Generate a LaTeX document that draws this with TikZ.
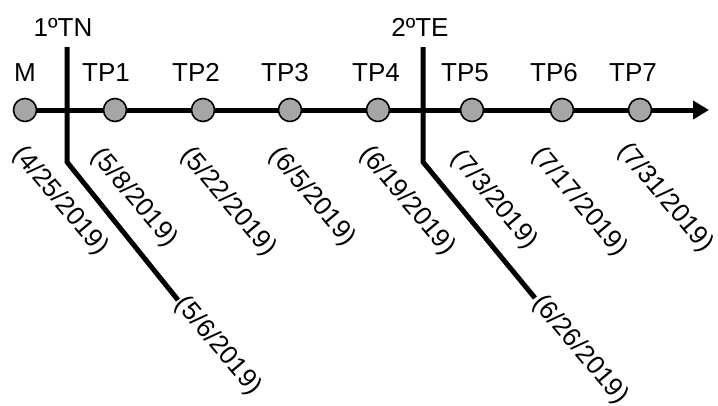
\documentclass[tikz,border=0pt]{standalone}
\usepackage{fontspec}
\setmainfont{Liberation Sans}
\usetikzlibrary{arrows.meta}
\definecolor{dotgray}{HTML}{A6A6A6}
\begin{document}
\begin{tikzpicture}[x=1pt,y=-1pt,
  dot/.style={circle,draw=black,line width=1.6pt,fill=dotgray,minimum size=23pt,inner sep=0pt},
  lbl/.style={anchor=base,inner sep=0pt,font=\fontsize{26}{31}\selectfont},
  datelbl/.style={rotate=-50,inner sep=0pt,font=\fontsize{26}{31}\selectfont},
  thick line/.style={line width=5pt}]
\useasboundingbox (0,0) rectangle (718,405);
% main axis
\coordinate (start) at (25,110);
\coordinate (tip) at (709,110);
\draw[thick line,-{Triangle[length=16pt,width=18pt]}] (start) -- (tip);
% event lines
\coordinate (e1top) at (67,47);
\coordinate (e1bend) at (67,162);
\coordinate (e1end) at (178,300);
\coordinate (e2top) at (423,47);
\coordinate (e2bend) at (423,162);
\coordinate (e2end) at (535,298);
\draw[thick line] (e1top) -- (e1bend) -- (e1end);
\draw[thick line] (e2top) -- (e2bend) -- (e2end);
% dots
\node[dot] (M) at (25,110) {};
\node[dot] (TP1) at (115,110) {};
\node[dot] (TP2) at (203,110) {};
\node[dot] (TP3) at (290,110) {};
\node[dot] (TP4) at (378,110) {};
\node[dot] (TP5) at (472,110) {};
\node[dot] (TP6) at (562,110) {};
\node[dot] (TP7) at (640,110) {};
% labels
\node[lbl] (lM) at (25,81) {M};
\node[lbl] (l1) at (106,81) {TP1};
\node[lbl] (l2) at (196,81) {TP2};
\node[lbl] (l3) at (285,81) {TP3};
\node[lbl] (l4) at (376,81) {TP4};
\node[lbl] (l5) at (465,81) {TP5};
\node[lbl] (l6) at (554,81) {TP6};
\node[lbl] (l7) at (633,81) {TP7};
\node[lbl] (tn) at (63,36) {1ºTN};
\node[lbl] (te) at (420,36) {2ºTE};
% dates
\node[datelbl] (dM) at (60,201) {(4/25/2019)};
\node[datelbl] (d1) at (134,198) {(5/8/2019)};
\node[datelbl] (d2) at (228,202) {(5/22/2019)};
\node[datelbl] (d3) at (312,197) {(6/5/2019)};
\node[datelbl] (d4) at (407,201) {(6/19/2019)};
\node[datelbl] (d5) at (494,200) {(7/3/2019)};
\node[datelbl] (d6) at (579,202) {(7/17/2019)};
\node[datelbl] (d7) at (665,198) {(7/31/2019)};
\node[datelbl] (de1) at (218,346) {(5/6/2019)};
\node[datelbl] (de2) at (580,350) {(6/26/2019)};
\end{tikzpicture}
\end{document}
